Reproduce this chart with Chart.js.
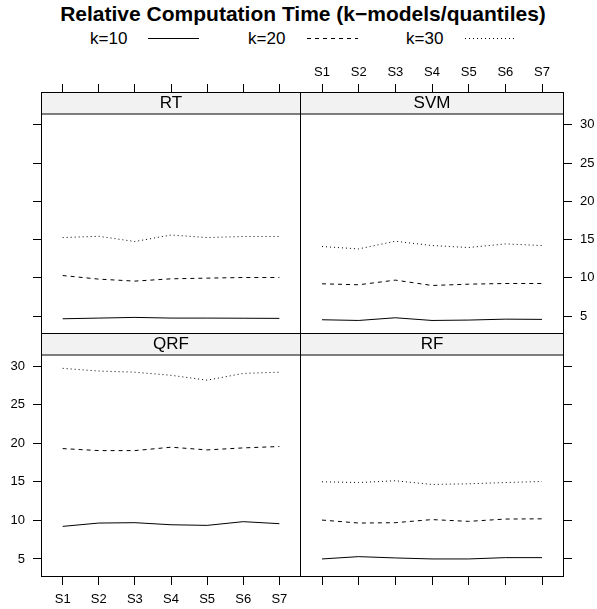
<!DOCTYPE html>
<html>
<head>
<meta charset="utf-8">
<script src="https://cdn.jsdelivr.net/npm/chart.js@4/dist/chart.umd.min.js"></script>
<style>
  body { margin: 0; background: #fff; font-family: "Liberation Sans", Arial, sans-serif; color: #000; }
  #wrap { position: relative; width: 597px; height: 609px; overflow: hidden; }
  canvas { position: absolute; }
  #title { position: absolute; left: 0; width: 606px; top: 2px; text-align: center; font-weight: bold; font-size: 21px; line-height: 24px; }
  .leg { position: absolute; top: 29px; font-size: 17px; line-height: 20px; }
  .legline { position: absolute; top: 30px; }
</style>
</head>
<body>
<div id="wrap">
  <div id="title">Relative Computation Time (k−models/quantiles)</div>
  <div class="leg" style="left:90px">k=10</div>
  <svg class="legline" style="left:148px" width="52" height="18"><line x1="0" y1="8.5" x2="51" y2="8.5" stroke="#000" stroke-width="1"/></svg>
  <div class="leg" style="left:248px">k=20</div>
  <svg class="legline" style="left:307px" width="52" height="18"><line x1="0" y1="8.5" x2="51" y2="8.5" stroke="#000" stroke-width="1" stroke-dasharray="4 4"/></svg>
  <div class="leg" style="left:406px">k=30</div>
  <svg class="legline" style="left:465px" width="52" height="18"><line x1="0" y1="8.5" x2="51" y2="8.5" stroke="#000" stroke-width="1" stroke-dasharray="1 3"/></svg>

  <canvas id="cRT" width="301" height="254" style="left:0px;top:80px"></canvas>
  <canvas id="cSVM" width="297" height="274" style="left:300px;top:60px"></canvas>
  <canvas id="cQRF" width="301" height="276" style="left:0px;top:333px"></canvas>
  <canvas id="cRF" width="297" height="276" style="left:300px;top:333px"></canvas>
</div>
<script>
const sites = ["S1", "S2", "S3", "S4", "S5", "S6", "S7"];
const yTicks = [5, 10, 15, 20, 25, 30];
const kLabels = ["k=10", "k=20", "k=30"];

const rtK10 = [4.65, 4.74, 4.83, 4.74, 4.74, 4.72, 4.70];
const rtK20 = [10.3, 9.83, 9.57, 9.87, 9.96, 10.04, 10.04];
const rtK30 = [15.26, 15.43, 14.74, 15.6, 15.26, 15.4, 15.4];

const svmK10 = [4.52, 4.43, 4.78, 4.43, 4.48, 4.6, 4.57];
const svmK20 = [9.22, 9.09, 9.7, 9.0, 9.17, 9.26, 9.26];
const svmK30 = [14.09, 13.78, 14.78, 14.22, 13.96, 14.43, 14.22];

const qrfK10 = [9.22, 9.65, 9.7, 9.43, 9.35, 9.83, 9.57];
const qrfK20 = [19.3, 19.04, 19.04, 19.48, 19.13, 19.39, 19.57];
const qrfK30 = [29.7, 29.35, 29.2, 28.8, 28.17, 29.04, 29.2];

const rfK10 = [5.0, 5.3, 5.13, 5.0, 5.0, 5.17, 5.17];
const rfK20 = [10.04, 9.65, 9.7, 10.1, 9.87, 10.17, 10.2];
const rfK30 = [15.0, 14.9, 15.13, 14.65, 14.74, 14.9, 15.04];

// shared axis range; upper end includes the strip band at the top of each panel
const Y_MIN = 2.66;
const Y_MAX = 34.28;
const STRIP = 21.5;
const FONT = "'Liberation Sans', Arial, sans-serif";
const dashes = [[], [4, 4], [1, 3]];

const panelFrame = {
  id: "panelFrame",
  afterDraw(chart, args, opts) {
    const { ctx, chartArea: a } = chart;
    ctx.save();
    ctx.fillStyle = "#f2f2f2";
    ctx.fillRect(a.left, a.top, a.right - a.left, STRIP);
    ctx.strokeStyle = "#000";
    ctx.lineWidth = 1;
    ctx.beginPath();
    ctx.moveTo(a.left, a.top + STRIP + 0.5);
    ctx.lineTo(a.right, a.top + STRIP + 0.5);
    ctx.stroke();
    ctx.strokeRect(a.left + 0.5, a.top + 0.5, a.right - a.left - 1, a.bottom - a.top - 1);
    ctx.fillStyle = "#000";
    ctx.font = "17px " + FONT;
    ctx.textAlign = "center";
    ctx.textBaseline = "middle";
    ctx.fillText(opts.name, (a.left + a.right) / 2, a.top + STRIP / 2 + 1);
    ctx.restore();
  }
};

function noPad(s) {
  s.paddingTop = 0; s.paddingBottom = 0; s.paddingLeft = 0; s.paddingRight = 0;
}

function makePanel(id, name, series, cfg) {
  new Chart(document.getElementById(id), {
    type: "line",
    data: {
      datasets: series.map((vals, k) => ({
        label: kLabels[k],
        data: vals.map((v, i) => ({ x: i, y: v })),
        borderColor: "#000",
        borderWidth: 1,
        borderDash: dashes[k],
        pointRadius: 0,
        tension: 0,
        fill: false
      }))
    },
    options: {
      responsive: false,
      animation: false,
      layout: { padding: { top: 0, left: 0, right: 0, bottom: 0 } },
      plugins: { legend: { display: false }, tooltip: { enabled: false }, panelFrame: { name } },
      scales: {
        x: {
          type: "linear",
          position: cfg.xPos,
          min: -0.6,
          max: 6.6,
          afterBuildTicks: s => { s.ticks = sites.map((_, i) => ({ value: i })); },
          afterFit: s => { s.height = cfg.xSize; noPad(s); },
          border: { display: false },
          grid: { drawOnChartArea: false, drawTicks: true, tickLength: 8, color: "#000" },
          ticks: {
            display: cfg.xLabels,
            autoSkip: false,
            maxRotation: 0,
            padding: cfg.xPos === "top" ? 4 : 7,
            color: "#000",
            font: { size: 13, family: FONT },
            callback: (v, i) => sites[i]
          }
        },
        y: {
          type: "linear",
          position: cfg.yPos,
          min: Y_MIN,
          max: Y_MAX,
          afterBuildTicks: s => { s.ticks = yTicks.map(v => ({ value: v })); },
          afterFit: s => { s.width = cfg.ySize; noPad(s); },
          border: { display: false },
          grid: { drawOnChartArea: false, drawTicks: true, tickLength: 8, color: "#000" },
          ticks: {
            display: cfg.yLabels,
            padding: 8,
            color: "#000",
            font: { size: 13, family: FONT },
            callback: v => String(v)
          }
        }
      }
    },
    plugins: [panelFrame]
  });
}

makePanel("cRT", "RT", [rtK10, rtK20, rtK30],
  { xPos: "top", xLabels: false, xSize: 12, yPos: "left", yLabels: false, ySize: 41 });
makePanel("cSVM", "SVM", [svmK10, svmK20, svmK30],
  { xPos: "top", xLabels: true, xSize: 32, yPos: "right", yLabels: true, ySize: 33 });
makePanel("cQRF", "QRF", [qrfK10, qrfK20, qrfK30],
  { xPos: "bottom", xLabels: true, xSize: 32, yPos: "left", yLabels: true, ySize: 41 });
makePanel("cRF", "RF", [rfK10, rfK20, rfK30],
  { xPos: "bottom", xLabels: false, xSize: 32, yPos: "right", yLabels: false, ySize: 33 });
</script>
</body>
</html>
